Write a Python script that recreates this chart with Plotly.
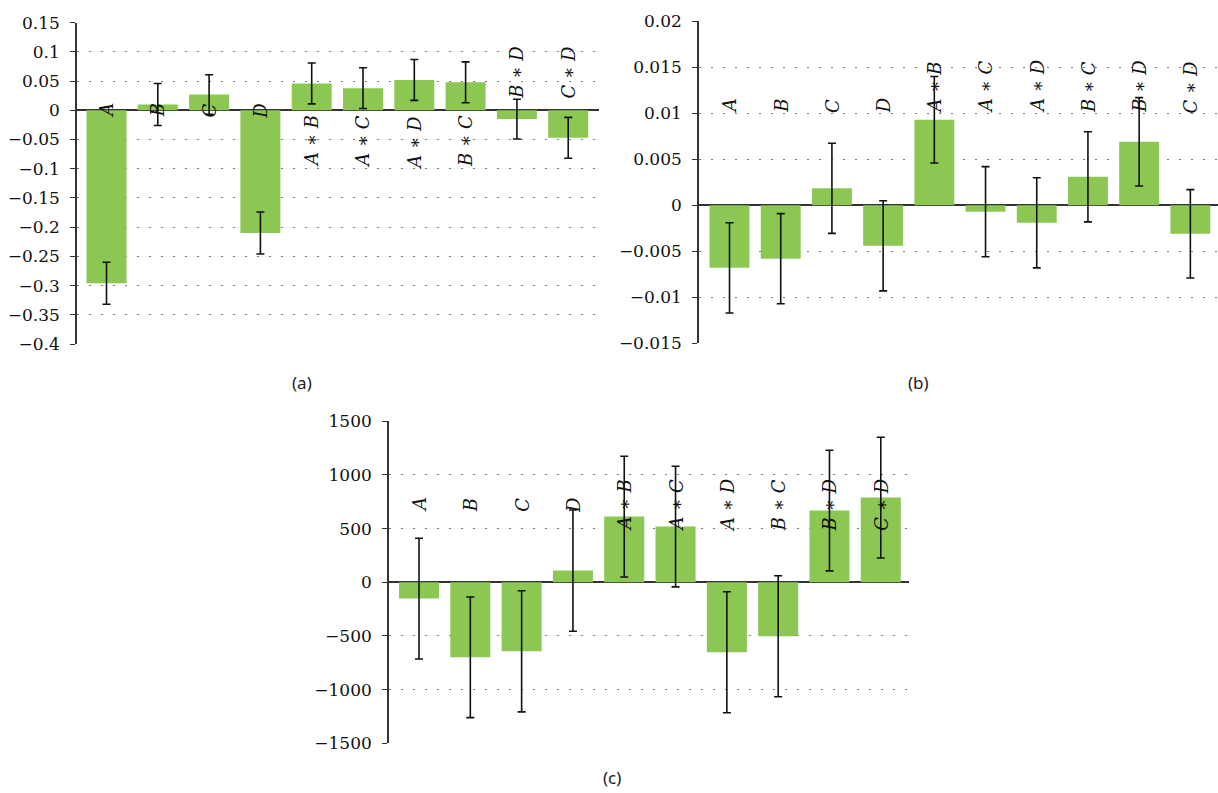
import plotly.graph_objects as go

# Effect names shared by the three panels
factors = ["A", "B", "C", "D", "A*B", "A*C", "A*D", "B*C", "B*D", "C*D"]

# Panel (a) effects and their error half-widths
effects_a = [-0.296, 0.010, 0.027, -0.210, 0.046, 0.038, 0.052, 0.048, -0.015, -0.047]
errors_a = [0.036, 0.036, 0.034, 0.036, 0.035, 0.035, 0.035, 0.035, 0.034, 0.035]

# Panel (b)
effects_b = [-0.0068, -0.0058, 0.00185, -0.0044, 0.0093, -0.0007, -0.0019, 0.0031, 0.0069, -0.0031]
errors_b = [0.0049, 0.0049, 0.0049, 0.0049, 0.0047, 0.0049, 0.0049, 0.0049, 0.0048, 0.0048]

# Panel (c)
effects_c = [-152, -699, -643, 109, 612, 519, -652, -503, 668, 789]
errors_c = [562, 562, 564, 565, 562, 562, 564, 564, 562, 563]

# Axis settings per panel: range, tick step
yrange_a, dtick_a = [-0.4, 0.15], 0.05
yrange_b, dtick_b = [-0.015, 0.02], 0.005
yrange_c, dtick_c = [-1500, 1500], 500

BAR = "#8cc653"
SERIF = "DejaVu Serif"

W, H = 1218, 793


def label_html(name):
    parts = name.split("*")
    return " ∗ ".join(f"<i>{p}</i>" for p in parts)


def label_font():
    return dict(family=SERIF, size=18, color="#111")


fig = go.Figure()

panels = [
    ("x", "y", effects_a, errors_a),
    ("x2", "y2", effects_b, errors_b),
    ("x3", "y3", effects_c, errors_c),
]
for xa, ya, vals, errs in panels:
    fig.add_trace(go.Bar(
        x=list(range(len(factors))), y=vals, xaxis=xa, yaxis=ya,
        marker=dict(color=BAR, line=dict(width=0)),
        width=0.78,
        error_y=dict(type="data", array=errs, visible=True,
                     color="#111111", thickness=1.6, width=4),
        hoverinfo="skip", showlegend=False,
    ))

# Rotated effect labels
annotations = []
for i, (name, v) in enumerate(zip(factors, effects_a)):
    single = "*" not in name
    if single:
        anchor, shift = "middle", 0
    elif v > 0:
        anchor, shift = "top", -3
    else:
        anchor, shift = "bottom", 10
    annotations.append(dict(x=i, y=0, xref="x", yref="y", text=label_html(name),
                            textangle=-90, showarrow=False, yanchor=anchor,
                            xanchor="center", yshift=shift, font=label_font()))
for i, name in enumerate(factors):
    annotations.append(dict(x=i, y=0.0098, xref="x2", yref="y2", text=label_html(name),
                            textangle=-90, showarrow=False, yanchor="bottom",
                            xanchor="center", font=label_font()))
for i, name in enumerate(factors):
    annotations.append(dict(x=i, y=720, xref="x3", yref="y3", text=label_html(name),
                            textangle=-90, showarrow=False, yanchor="middle",
                            xanchor="center", font=label_font()))

# Panel captions
for txt, px, py in [("(a)", 302, 382), ("(b)", 918, 382), ("(c)", 612, 777)]:
    annotations.append(dict(x=px / W, y=1 - py / H, xref="paper", yref="paper",
                            text=txt, showarrow=False, xanchor="center", yanchor="middle",
                            font=dict(family="Noto Sans", size=17, color="#222")))


def xaxis(domain, rng, anchor):
    return dict(domain=domain, range=rng, anchor=anchor, showgrid=False,
                showticklabels=False, showline=False, zeroline=False, ticks="",
                automargin=False, fixedrange=True)


def yaxis(domain, rng, dtick, anchor):
    return dict(domain=domain, range=rng, dtick=dtick, tick0=0, anchor=anchor,
                showline=True, linecolor="#333", linewidth=1.6,
                ticks="outside", ticklen=5, tickwidth=1.4, tickcolor="#333",
                ticklabelstandoff=7,
                showgrid=True, gridcolor="#7a7a7a", gridwidth=1.4, griddash="1.5px,10.5px",
                zeroline=True, zerolinecolor="#333", zerolinewidth=1.6,
                tickfont=dict(family=SERIF, size=17, color="#111"),
                automargin=False, fixedrange=True)


fig.update_layout(
    template="none",
    width=W, height=H,
    margin=dict(l=0, r=0, t=0, b=0, pad=0),
    paper_bgcolor="white", plot_bgcolor="white",
    xaxis=xaxis([77 / W, 599 / W], [-0.575, 9.6], "y"),
    yaxis=yaxis([1 - 344 / H, 1 - 22.7 / H], yrange_a, dtick_a, "x"),
    xaxis2=xaxis([699 / W, 1.0], [-0.596, 9.54], "y2"),
    yaxis2=yaxis([1 - 343.3 / H, 1 - 21.3 / H], yrange_b, dtick_b, "x2"),
    xaxis3=xaxis([389 / W, 909 / W], [-0.585, 9.55], "y3"),
    yaxis3=yaxis([1 - 743.3 / H, 1 - 421.3 / H], yrange_c, dtick_c, "x3"),
    annotations=annotations,
)

fig.write_html("out.html")
